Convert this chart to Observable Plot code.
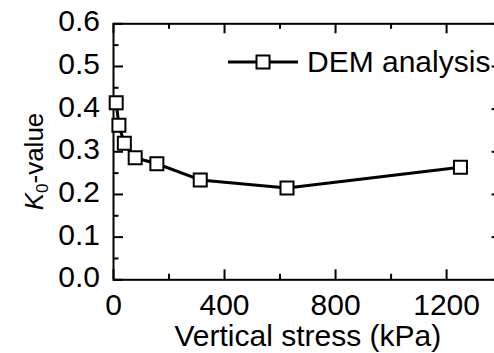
<!DOCTYPE html>
<html><head><meta charset="utf-8">
<script src="https://cdn.jsdelivr.net/npm/d3@7"></script>
<script src="https://cdn.jsdelivr.net/npm/@observablehq/plot@0.6"></script>
<style>
html,body{margin:0;padding:0;background:#fff;overflow:hidden;width:494px;height:353px}
#chart{position:relative;width:494px;height:353px;overflow:hidden}
</style></head><body><div id="chart"></div>
<script>
const stress = [9.77, 19.53, 39.06, 78.125, 156.25, 312.5, 625, 1250];
const k0 = [0.415, 0.362, 0.320, 0.286, 0.272, 0.234, 0.215, 0.264];
const seriesName = "DEM analysis";
const xTicks = [0, 400, 800, 1200];
const xMinorTicks = [200, 600, 1000];
const yTicks = [0, 0.1, 0.2, 0.3, 0.4, 0.5, 0.6];
const yMinorTicks = [0.05, 0.15, 0.25, 0.35, 0.45, 0.55];
const xLabel = "Vertical stress (kPa)";
const yLabelMain = "K", yLabelSub = "0", yLabelRest = "-value";

const data = stress.map((s, i) => ({s, k: k0[i]}));
const FONT = "'Liberation Sans', Arial, sans-serif";

const W = 504, H = 353, ML = 113, MR = 2.4, MT = 23.3, MB = 73.7;
const FW = W - ML - MR, FH = H - MT - MB;

const tickRules = (ticks, len, isX) => isX ? [
  Plot.ruleX(ticks, {x: d => d, insetTop: FH - len, stroke: "#000", strokeWidth: 2}),
  Plot.ruleX(ticks, {x: d => d, insetBottom: FH - len, stroke: "#000", strokeWidth: 2})
] : [
  Plot.ruleY(ticks, {y: d => d, insetRight: FW - len, stroke: "#000", strokeWidth: 2}),
  Plot.ruleY(ticks, {y: d => d, insetLeft: FW - len, stroke: "#000", strokeWidth: 2})
];

const chart = Plot.plot({
  width: W, height: H,
  marginLeft: ML, marginRight: MR, marginTop: MT, marginBottom: MB,
  style: {fontFamily: FONT, fontSize: "30px", color: "#000", background: "#fff", overflow: "visible", maxWidth: "none"},
  x: {domain: [0, 1400]},
  y: {domain: [0, 0.6]},
  marks: [
    ...tickRules(xTicks, 10, true),
    ...tickRules(xMinorTicks, 5.5, true),
    ...tickRules(yTicks, 10, false),
    ...tickRules(yMinorTicks, 5.5, false),
    Plot.axisX(xTicks, {anchor: "bottom", tickSize: 0, tickPadding: 14, tickFormat: d3.format("d"), label: null, fontSize: 30}),
    Plot.axisY(yTicks, {anchor: "left", tickSize: 0, tickPadding: 13.5, tickFormat: d3.format(".1f"), label: null, fontSize: 30, dy: -2}),
    Plot.text([xLabel], {frameAnchor: "bottom", dy: 65.7, lineAnchor: "bottom", fontSize: 30, text: d => d}),
    Plot.frame({stroke: "#000", strokeWidth: 2}),
    Plot.line(data, {x: "s", y: "k", stroke: "#000", strokeWidth: 3}),
    Plot.dot(data, {x: "s", y: "k", symbol: "square", r: 7.33, fill: "#fff", stroke: "#000", strokeWidth: 2})
  ]
});
chart.style.maxWidth = "none";
chart.style.width = W + "px";
chart.style.height = H + "px";

const svg = d3.select(chart);
// y-axis label
const yl = svg.append("text")
  .attr("transform", "translate(43,161.5) rotate(-90)")
  .attr("text-anchor", "middle")
  .attr("font-family", FONT)
  .attr("font-size", 26)
  .attr("fill", "#000");
yl.append("tspan").attr("font-style", "italic").text(yLabelMain);
yl.append("tspan").attr("font-size", 17).attr("dy", 5).text(yLabelSub);
yl.append("tspan").attr("dy", -5).text(yLabelRest);

// legend
const lg = svg.append("g").attr("font-family", FONT);
lg.append("line").attr("x1", 228).attr("x2", 298).attr("y1", 62).attr("y2", 62)
  .attr("stroke", "#000").attr("stroke-width", 3);
lg.append("rect").attr("x", 256.5).attr("y", 55.5).attr("width", 13).attr("height", 13)
  .attr("fill", "#fff").attr("stroke", "#000").attr("stroke-width", 2);
lg.append("text").attr("x", 307).attr("y", 72).attr("font-size", 30)
  .attr("text-anchor", "start").attr("fill", "#000").text(seriesName);

document.getElementById("chart").appendChild(chart);
</script></body></html>
